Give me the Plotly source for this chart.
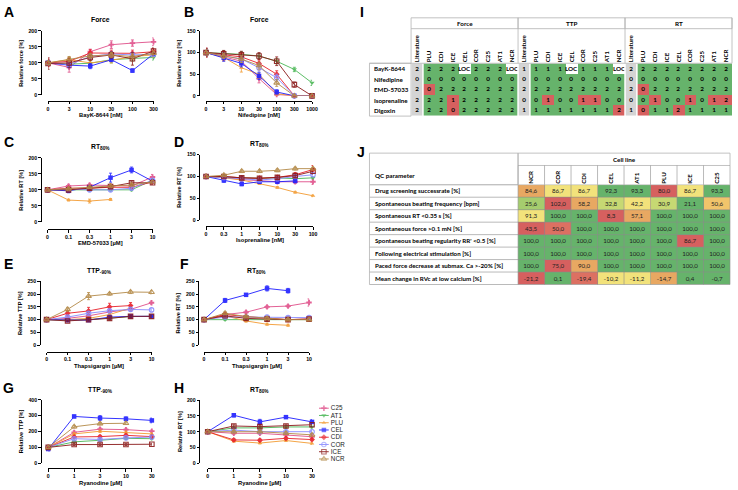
import plotly.graph_objects as go

W, H = 738, 490

lines = ["C25", "AT1", "PLU", "CEL", "CDI", "COR", "ICE", "NCR"]

# A  Force, BayK-8644
bayk_nM = ["0", "3", "10", "30", "100", "300"]
force_bayk = {
    "C25": [100, 86, 135, 157, 162, 166],
    "AT1": [100, 96, 99, 110, 114, 117],
    "PLU": [100, 110, 100, 108, 120, 125],
    "CEL": [100, 93, 90, 110, 76, 128],
    "CDI": [100, 105, 131, 130, 130, 135],
    "COR": [100, 95, 120, 128, 125, 127],
    "ICE": [98, 100, 117, 125, 113, 137],
    "NCR": [100, 112, 122, 125, 120, 130],
}
force_bayk_sem = {
    "C25": [10, 15, 8, 12, 10, 12],
    "AT1": [8, 6, 8, 10, 8, 8],
    "PLU": [8, 8, 8, 8, 8, 8],
    "CEL": [8, 8, 8, 6, 5, 8],
    "CDI": [12, 10, 10, 10, 10, 10],
    "COR": [8, 8, 8, 8, 8, 8],
    "ICE": [18, 15, 10, 10, 20, 10],
    "NCR": [8, 8, 8, 8, 8, 8],
}

# B  Force, Nifedipine
nif_nM = ["0", "3", "10", "30", "100", "300", "1000"]
force_nif = {
    "C25": [100, 90, 80, 40, 3, 0, 0],
    "AT1": [100, 98, 96, 92, 80, 61, 30],
    "PLU": [100, 89, 65, 50, 5, 0, 0],
    "CEL": [100, 88, 75, 46, 9, 0, 0],
    "CDI": [100, 95, 90, 75, 50, 0, 0],
    "COR": [100, 93, 85, 65, 42, 0, 0],
    "ICE": [100, 97, 95, 92, 80, 26, 0],
    "NCR": [100, 92, 85, 70, 30, 0, 0],
}
force_nif_sem = {
    "C25": [10, 8, 8, 10, 3, 0, 0],
    "AT1": [8, 6, 6, 6, 6, 5, 6],
    "PLU": [8, 8, 10, 10, 4, 0, 0],
    "CEL": [8, 8, 8, 8, 5, 0, 0],
    "CDI": [10, 8, 8, 8, 8, 0, 0],
    "COR": [8, 6, 8, 10, 8, 0, 0],
    "ICE": [10, 8, 8, 8, 10, 6, 2],
    "NCR": [8, 6, 8, 8, 8, 0, 0],
}

# C  RT80%, EMD-57033
emd_uM = ["0", "0.1", "0.3", "1", "3", "10"]
rt_emd = {
    "C25": [100, 112, 115, 113, 112, 140],
    "AT1": [100, 100, 100, 100, 100, 130],
    "PLU": [100, 68, 65, 70, None, None],
    "CEL": [100, 97, 108, 138, 162, 127],
    "CDI": [100, 105, 105, 108, 108, 125],
    "COR": [100, 102, 100, 100, 105, 130],
    "ICE": [100, 100, 105, 110, 122, 122],
    "NCR": [100, 103, 108, 112, 115, 125],
}
rt_emd_sem = {
    "C25": [5, 4, 4, 4, 4, 8],
    "AT1": [3, 3, 3, 3, 3, 5],
    "PLU": [3, 3, 6, 3, None, None],
    "CEL": [6, 6, 6, 14, 9, 6],
    "CDI": [4, 4, 4, 4, 4, 5],
    "COR": [4, 4, 4, 4, 4, 5],
    "ICE": [4, 4, 4, 4, 5, 5],
    "NCR": [3, 3, 3, 3, 3, 4],
}

# D  RT80%, Isoprenaline
iso_nM = ["0", "0.3", "1", "3", "10", "30", "100"]
rt_iso = {
    "C25": [100, 98, 93, 90, 88, 88, 88],
    "AT1": [100, 99, 97, 96, 97, 95, 97],
    "PLU": [100, 97, 92, 84, 75, 64, 56],
    "CEL": [100, 91, 83, 88, 88, 90, None],
    "CDI": [100, 100, 97, 96, 98, 104, 116],
    "COR": [100, 98, 95, 92, 95, 100, 104],
    "ICE": [100, 100, 97, 96, 98, 102, 112],
    "NCR": [100, 103, 112, 112, 114, 118, 118],
}
rt_iso_sem = {
    "C25": [3, 3, 3, 3, 3, 4, 6],
    "AT1": [2, 2, 2, 2, 2, 2, 2],
    "PLU": [2, 2, 2, 2, 2, 2, 2],
    "CEL": [4, 4, 4, 4, 4, 4, None],
    "CDI": [3, 3, 3, 3, 4, 5, 9],
    "COR": [3, 3, 3, 3, 3, 4, 4],
    "ICE": [3, 3, 3, 3, 3, 4, 6],
    "NCR": [2, 2, 3, 3, 3, 3, 3],
}

# E  TTP-90%, Thapsigargin
thap_uM = ["0", "0.1", "0.3", "1", "3", "10"]
ttp_thap = {
    "C25": [100, 105, 115, 130, 140, 166],
    "AT1": [100, 98, 100, 105, 112, 113],
    "PLU": [100, 100, 105, 120, 145, None],
    "CEL": [100, 98, 98, 110, 113, 113],
    "CDI": [100, 125, 134, 150, 155, None],
    "COR": [100, 110, 125, 135, 140, 138],
    "ICE": [100, 95, 100, 105, 113, 113],
    "NCR": [100, 140, 192, 201, 208, 207],
}
ttp_thap_sem = {
    "C25": [5, 5, 5, 8, 8, 6],
    "AT1": [4, 4, 4, 4, 4, 4],
    "PLU": [4, 4, 4, 6, 8, None],
    "CEL": [6, 4, 4, 4, 4, 4],
    "CDI": [6, 10, 14, 14, 12, None],
    "COR": [5, 5, 6, 6, 6, 5],
    "ICE": [4, 4, 4, 4, 4, 4],
    "NCR": [4, 8, 14, 5, 6, 6],
}

# F  RT80%, Thapsigargin
rt_thap = {
    "C25": [100, 120, 129, 150, 153, 167],
    "AT1": [100, 100, 102, 100, 100, 100],
    "PLU": [100, 115, 95, 82, 78, None],
    "CEL": [100, 175, 197, 222, 213, None],
    "CDI": [100, 120, 112, 105, 100, 103],
    "COR": [100, 110, 110, 110, 108, 108],
    "ICE": [100, 115, 105, 102, 100, 102],
    "NCR": [100, 125, 112, 105, 100, 100],
}
rt_thap_sem = {
    "C25": [4, 6, 5, 5, 5, 14],
    "AT1": [3, 3, 3, 3, 3, 3],
    "PLU": [3, 5, 5, 4, 4, None],
    "CEL": [5, 8, 5, 10, 9, None],
    "CDI": [3, 8, 5, 4, 4, 4],
    "COR": [3, 4, 4, 4, 4, 4],
    "ICE": [3, 4, 4, 4, 4, 4],
    "NCR": [3, 6, 4, 4, 4, 4],
}

# G  TTP-90%, Ryanodine
rya_uM = ["0", "1", "3", "10", "30"]
ttp_rya = {
    "C25": [100, 195, 215, 212, 202],
    "AT1": [100, 135, 145, 157, 155],
    "PLU": [100, 185, 202, 195, 185],
    "CEL": [90, 295, 285, 280, 270],
    "CDI": [100, 166, 168, 176, 168],
    "COR": [100, 155, 150, 160, 165],
    "ICE": [100, 118, 118, 118, 120],
    "NCR": [100, 230, 250, 252, None],
}
ttp_rya_sem = {
    "C25": [6, 8, 8, 8, 8],
    "AT1": [5, 6, 6, 6, 6],
    "PLU": [5, 8, 8, 8, 8],
    "CEL": [12, 8, 15, 12, 15],
    "CDI": [5, 8, 8, 8, 8],
    "COR": [5, 6, 6, 6, 6],
    "ICE": [5, 6, 6, 6, 6],
    "NCR": [5, 8, 8, 8, None],
}

# H  RT80%, Ryanodine
rt_rya = {
    "C25": [100, 95, 95, 90, 84],
    "AT1": [100, 112, 112, 115, 115],
    "PLU": [100, 70, 64, 72, 63],
    "CEL": [100, 152, 131, 146, 131],
    "CDI": [100, 74, 73, 79, 75],
    "COR": [100, 105, 100, 100, 100],
    "ICE": [100, 118, 116, 118, 122],
    "NCR": [100, 100, 100, 95, 90],
}
rt_rya_sem = {
    "C25": [3, 4, 4, 4, 6],
    "AT1": [3, 4, 4, 4, 4],
    "PLU": [3, 3, 3, 3, 3],
    "CEL": [5, 5, 8, 4, 7],
    "CDI": [3, 4, 4, 4, 4],
    "COR": [3, 4, 4, 4, 4],
    "ICE": [3, 4, 4, 4, 6],
    "NCR": [3, 4, 4, 4, 4],
}

# I  drug response vs literature
drugs = ["BayK-8644", "Nifedipine", "EMD-57033", "Isoprenaline", "Digoxin"]
lines_I = ["PLU", "CDI", "ICE", "CEL", "COR", "C25", "AT1", "NCR"]
groups_I = ["Force", "TTP", "RT"]
force_lit = [2, 0, 2, 2, 2]
force_obs = [
    ["2", "2", "2", "LOC", "2", "2", "2", "LOC"],
    ["0", "0", "0", "0", "0", "0", "0", "0"],
    ["0", "2", "2", "2", "2", "2", "2", "2"],
    ["2", "2", "1", "2", "2", "2", "2", "2"],
    ["2", "2", "0", "2", "2", "2", "2", "2"],
]
ttp_lit = [1, 0, 2, 0, 1]
ttp_obs = [
    ["1", "1", "1", "LOC", "1", "1", "1", "LOC"],
    ["0", "0", "0", "0", "0", "0", "0", "0"],
    ["2", "2", "2", "2", "2", "2", "2", "2"],
    ["0", "1", "0", "0", "1", "1", "0", "0"],
    ["1", "1", "1", "1", "1", "1", "1", "2"],
]
rt_lit = [2, 0, 2, 0, 1]
rt_obs = [
    ["2", "2", "2", "2", "2", "2", "2", "2"],
    ["0", "0", "0", "0", "0", "0", "0", "0"],
    ["0", "2", "2", "2", "2", "2", "2", "2"],
    ["0", "1", "0", "0", "1", "0", "1", "2"],
    ["0", "1", "1", "2", "1", "1", "1", "1"],
]

# J  QC parameters
qc_params = [
    "Drug screening successrate [%]",
    "Spontaneous beating frequency [bpm]",
    "Spontaneous RT &lt;0.35 s [%]",
    "Spontaneous force &gt;0.1 mN [%]",
    "Spontaneous beating regularity RR' &lt;0.5 [%]",
    "Following electrical stimulation [%]",
    "Paced force decrease at submax. Ca &gt;-20% [%]",
    "Mean change in RVc at low calcium [%]",
]
lines_J = ["NCR", "COR", "CDI", "CEL", "AT1", "PLU", "ICE", "C25"]
qc_values = [
    [84.6, 86.7, 86.7, 92.3, 93.3, 80.0, 86.7, 93.3],
    [25.6, 102.0, 58.2, 32.8, 42.2, 30.9, 21.1, 50.6],
    [91.3, 100.0, 100.0, 8.3, 57.1, 100.0, 100.0, 100.0],
    [43.5, 50.0, 100.0, 100.0, 100.0, 100.0, 100.0, 100.0],
    [100.0, 100.0, 100.0, 100.0, 100.0, 100.0, 86.7, 100.0],
    [100.0, 100.0, 100.0, 100.0, 100.0, 100.0, 100.0, 100.0],
    [100.0, 75.0, 90.0, 100.0, 100.0, 100.0, 100.0, 100.0],
    [-21.2, 0.1, -19.4, -10.2, -11.2, -14.7, 0.4, -0.7],
]

# ---------------- styles ----------------
GREEN, LGREEN, YGREEN, YELLOW = "#66b36b", "#a5cd6e", "#c6d873", "#f2e27b"
LORANGE, ORANGE, LRED, RED = "#f1c46b", "#e8a862", "#dc7062", "#d6605f"
qc_colors = [
    [ORANGE, YELLOW, YELLOW, GREEN, GREEN, RED, YELLOW, GREEN],
    [LGREEN, RED, ORANGE, YGREEN, YELLOW, YGREEN, GREEN, LORANGE],
    [YELLOW, GREEN, GREEN, RED, ORANGE, GREEN, GREEN, GREEN],
    [RED, LRED, GREEN, GREEN, GREEN, GREEN, GREEN, GREEN],
    [GREEN, GREEN, GREEN, GREEN, GREEN, GREEN, RED, GREEN],
    [GREEN] * 8,
    [GREEN, RED, ORANGE, GREEN, GREEN, GREEN, GREEN, GREEN],
    [RED, GREEN, LRED, YELLOW, YELLOW, ORANGE, GREEN, GREEN],
]

line_style = {
    "C25": ("#e0508a", "cross", 4.5),
    "AT1": ("#4cb857", "triangle-down", 4.5),
    "PLU": ("#f39c33", "triangle-up", 4),
    "CEL": ("#1f1fff", "square", 4.5),
    "CDI": ("#e8202a", "diamond", 4.5),
    "COR": ("#8a8cff", "circle-open", 4.5),
    "ICE": ("#8b1a1a", "square-open", 4.5),
    "NCR": ("#b48a48", "triangle-up-open", 5),
}

PF = "Liberation Sans"
TF = "Lato"


def px(x):
    return x / W


def py(y):
    return 1 - y / H


# box = (x of first dose, x of last dose, y of 0, y of ymax, y-axis line x, x-axis line y)
panels = [
    ("A", bayk_nM, force_bayk, force_bayk_sem, "Force", "BayK-8644 [nM]", "Relative force [%]", 200, 50,
     (47.5, 154, 93, 28.3, 40, 99), 17, 113, (8, 9)),
    ("B", nif_nM, force_nif, force_nif_sem, "Force", "Nifedipine [nM]", "Relative force [%]", 150, 50,
     (207, 314, 94, 28.3, 200, 99), 17, 113, (190, 9)),
    ("C", emd_uM, rt_emd, rt_emd_sem, "RT<sub>80%</sub>", "EMD-57033 [µM]", "Relative RT [%]", 200, 50,
     (47, 153, 221.6, 156.7, 40, 229), 146, 243, (8, 141)),
    ("D", iso_nM, rt_iso, rt_iso_sem, "RT<sub>80%</sub>", "Isoprenaline [nM]", "Relative RT [%]", 150, 50,
     (207, 315, 220, 153.5, 200, 226), 143, 240, (180, 141)),
    ("E", thap_uM, ttp_thap, ttp_thap_sem, "TTP<sub>-90%</sub>", "Thapsigargin [µM]", "Relative TTP [%]", 250, 50,
     (46, 152, 346.5, 281.7, 39, 353), 271, 367.5, (8, 264)),
    ("F", thap_uM, rt_thap, rt_thap_sem, "RT<sub>80%</sub>", "Thapsigargin [µM]", "Relative RT [%]", 250, 50,
     (205, 311, 346.5, 281.7, 199, 353), 271, 367.5, (185, 264)),
    ("G", rya_uM, ttp_rya, ttp_rya_sem, "TTP<sub>-90%</sub>", "Ryanodine [µM]", "Relative TTP [%]", 400, 100,
     (47.7, 152.3, 466, 401.7, 40, 471), 392, 485.5, (8, 390)),
    ("H", rya_uM, rt_rya, rt_rya_sem, "RT<sub>80%</sub>", "Ryanodine [µM]", "Relative RT [%]", 200, 50,
     (208.7, 314, 466, 402, 200, 471), 392, 485.5, (180, 390)),
]

fig = go.Figure()
layout = {}
annotations = []
shapes = []
tick_font = dict(family=PF, size=5.2, color="black", weight="bold")


def ax_names(n):
    return ("x" if n == 1 else f"x{n}"), ("y" if n == 1 else f"y{n}")


for n, (letter, dose, vals, sem, title, xt, yt, ymax, dtick, box, ty, xty, lab) in enumerate(panels, start=1):
    xa, ya = ax_names(n)
    x0, x1, y0, y1, yline, xline = box
    for name in lines:
        col, sym, size = line_style[name]
        is_open = sym.endswith("open")
        fig.add_trace(go.Scatter(
            x=dose, y=vals[name], xaxis=xa, yaxis=ya, name=name,
            mode="lines+markers", cliponaxis=False, opacity=0.9,
            line=dict(color=col, width=1),
            marker=dict(symbol=sym, size=size, color=col,
                        line=dict(color=col, width=1.1 if is_open else 0)),
            error_y=dict(type="data", array=sem[name], color=col, thickness=0.9, width=1.5),
            hoverinfo="skip", showlegend=False,
        ))
    layout[xa.replace("x", "xaxis")] = dict(
        domain=[px(x0), px(x1)], anchor="free", position=py(xline), type="category",
        range=[0, len(dose) - 1], showline=True, linecolor="black", linewidth=1,
        ticks="outside", ticklen=2.5, tickwidth=1, tickcolor="black", tickfont=tick_font,
        showgrid=False, zeroline=False,
    )
    layout[ya.replace("y", "yaxis")] = dict(
        domain=[py(y0), py(y1)], anchor="free", position=px(yline), range=[0, ymax], dtick=dtick,
        showline=True, linecolor="black", linewidth=1, ticks="outside", ticklen=2.5, tickwidth=1,
        tickcolor="black", tickfont=tick_font, showgrid=False, zeroline=False,
    )
    xc = (x0 + x1) / 2
    annotations += [
        dict(text=title, x=px(xc), y=py(ty), xref="paper", yref="paper", showarrow=False,
             font=dict(family=PF, size=6.8, weight="bold")),
        dict(text=xt, x=px(xc), y=py(xty), xref="paper", yref="paper", showarrow=False,
             font=dict(family=PF, size=5.8, weight="bold")),
        dict(text=yt, x=px(yline - 20), y=py((y0 + y1) / 2), xref="paper", yref="paper", showarrow=False,
             textangle=-90, font=dict(family=PF, size=5.6, weight="bold")),
        dict(text=letter, x=px(lab[0]), y=py(lab[1]), xref="paper", yref="paper", showarrow=False,
             font=dict(family=PF, size=14, weight="bold")),
    ]

# legend key (own small axis)
nL = 11
for name in lines:
    col, sym, size = line_style[name]
    is_open = sym.endswith("open")
    fig.add_trace(go.Scatter(
        x=[-1, 0, 1], y=[name] * 3, xaxis=f"x{nL}", yaxis=f"y{nL}", mode="lines+markers",
        line=dict(color=col, width=1), cliponaxis=False, opacity=0.9,
        marker=dict(symbol=sym, size=[0, size, 0], color=col,
                    line=dict(color=col, width=1.1 if is_open else 0)),
        hoverinfo="skip", showlegend=False,
    ))
layout[f"xaxis{nL}"] = dict(domain=[px(321), px(331)], range=[-1, 1], visible=False, anchor=f"y{nL}")
layout[f"yaxis{nL}"] = dict(domain=[py(468), py(404)], type="category", autorange="reversed",
                            tickmode="array", tickvals=lines, ticktext=lines,
                            anchor="free", position=px(332), side="right", showline=False, ticks="",
                            showgrid=False, tickfont=dict(family=PF, size=6.3, color="#222"))

# ---------------- table I ----------------
nI = 9
I_left, I_x0, I_x1 = 372, 414, 738
I_top, I_hdr, I_y0, I_y1 = 15, 26, 61, 114.5
ids_I, names_I = [], []
for g in groups_I:
    for c in ["Literature"] + lines_I:
        ids_I.append(f"{g}|{c}")
        names_I.append(c)
zI, tI = [], []
for r in range(len(drugs)):
    zrow, trow = [], []
    for lit, obs in ((force_lit, force_obs), (ttp_lit, ttp_obs), (rt_lit, rt_obs)):
        zrow.append(0)
        trow.append(str(lit[r]))
        for v in obs[r]:
            zrow.append(3 if v == "LOC" else (1 if v == str(lit[r]) else 2))
            trow.append(v)
    zI.append(zrow)
    tI.append(trow)

GREY = "#d4d4d4"
fig.add_trace(go.Heatmap(
    x=ids_I, y=drugs, z=zI, text=tI, texttemplate="%{text}", xaxis=f"x{nI}", yaxis=f"y{nI}",
    zmin=0, zmax=3, showscale=False, hoverinfo="skip",
    colorscale=[[0, GREY], [1 / 6, GREY], [1 / 6, GREEN], [0.5, GREEN], [0.5, RED], [5 / 6, RED],
                [5 / 6, "white"], [1, "white"]],
    textfont=dict(family=TF, size=6.3, color="black", weight="bold"),
))
layout[f"xaxis{nI}"] = dict(domain=[px(I_x0), px(I_x1)], anchor=f"y{nI}", side="top", type="category",
                            tickvals=ids_I, ticktext=names_I, tickangle=-90, ticks="", showgrid=False,
                            tickfont=dict(family=TF, size=6.2, color="black", weight="bold"))
layout[f"yaxis{nI}"] = dict(domain=[py(I_y1), py(I_y0)], anchor=f"x{nI}", type="category",
                            autorange="reversed", showticklabels=False, ticks="", showgrid=False)
for i, d in enumerate(drugs):
    annotations.append(dict(text=d, x=px(I_left + 3), y=i, xref="paper", yref=f"y{nI}", xanchor="left",
                            showarrow=False, font=dict(family=TF, size=6.2, color="black", weight="bold")))
gw = (I_x1 - I_x0) / len(groups_I)
cw = gw / (len(lines_I) + 1)
BORDER = "#b3b3b3"
for gi, g in enumerate(groups_I):
    gx0 = I_x0 + gi * gw
    annotations.append(dict(text=g, x=px(gx0 + gw / 2), y=py((I_top + I_hdr) / 2), xref="paper", yref="paper",
                            showarrow=False, font=dict(family=TF, size=6.3, color="black", weight="bold")))
    shapes.append(dict(type="rect", xref="paper", yref="paper", x0=px(gx0), x1=px(gx0 + gw),
                       y0=py(I_hdr), y1=py(I_top), line=dict(color=BORDER, width=0.8)))
    shapes.append(dict(type="line", xref="paper", yref="paper", x0=px(gx0), x1=px(gx0),
                       y0=py(I_y0), y1=py(I_hdr), line=dict(color=BORDER, width=0.8)))
    for xx in (gx0, gx0 + cw):
        shapes.append(dict(type="line", xref="paper", yref="paper", x0=px(xx), x1=px(xx),
                           y0=py(I_y1), y1=py(I_y0), line=dict(color="white", width=1.5)))
shapes.append(dict(type="line", xref="paper", yref="paper", x0=px(I_x1), x1=px(I_x1),
                   y0=py(I_y0), y1=py(I_top), line=dict(color=BORDER, width=0.8)))
shapes.append(dict(type="rect", xref="paper", yref="paper", x0=px(I_left), x1=px(I_x0),
                   y0=py(I_y1), y1=py(I_y0), line=dict(color=BORDER, width=0.8)))
shapes.append(dict(type="line", xref="paper", yref="paper", x0=px(I_left), x1=px(I_x1),
                   y0=py(I_y0), y1=py(I_y0), line=dict(color=BORDER, width=0.8)))

# ---------------- table J ----------------
nJ = 10
J_left, J_x0, J_x1 = 372, 522, 736
J_top, J_hdr, J_y0, J_y1 = 152, 164.5, 184, 285
palette = []
for row in qc_colors:
    for c in row:
        if c not in palette:
            palette.append(c)
zJ = [[palette.index(c) for c in row] for row in qc_colors]
scaleJ = []
for k, c in enumerate(palette):
    scaleJ += [[k / len(palette), c], [(k + 1) / len(palette), c]]
tJ = [[f"{v:.1f}".replace(".", ",") for v in row] for row in qc_values]
fig.add_trace(go.Heatmap(
    x=lines_J, y=list(range(len(qc_params))), z=zJ, text=tJ, texttemplate="%{text}",
    xaxis=f"x{nJ}", yaxis=f"y{nJ}", zmin=-0.5, zmax=len(palette) - 0.5, colorscale=scaleJ,
    showscale=False, hoverinfo="skip",
    textfont=dict(family=TF, size=6.2, color="#222"),
))
layout[f"xaxis{nJ}"] = dict(domain=[px(J_x0), px(J_x1)], anchor=f"y{nJ}", side="top", type="category",
                            tickangle=-90, ticks="", showgrid=False,
                            tickfont=dict(family=TF, size=6.2, color="black", weight="bold"))
layout[f"yaxis{nJ}"] = dict(domain=[py(J_y1), py(J_y0)], anchor=f"x{nJ}", autorange="reversed",
                            showticklabels=False, ticks="", showgrid=False, zeroline=False)
for i, p in enumerate(qc_params):
    annotations.append(dict(text=p, x=px(J_left + 4), y=i, xref="paper", yref=f"y{nJ}", xanchor="left",
                            showarrow=False, font=dict(family=TF, size=6.2, color="black", weight="bold")))
annotations += [
    dict(text="QC parameter", x=px(J_left + 4), y=py((J_hdr + J_y0) / 2), xref="paper", yref="paper",
         xanchor="left", showarrow=False, font=dict(family=TF, size=6.3, color="black", weight="bold")),
    dict(text="Cell line", x=px((J_x0 + J_x1) / 2), y=py((J_top + J_hdr) / 2), xref="paper", yref="paper",
         showarrow=False, font=dict(family=TF, size=6.3, color="black", weight="bold")),
]
JB = "#8c8c8c"
rh = (J_y1 - J_y0) / len(qc_params)
jw = (J_x1 - J_x0) / len(lines_J)
shapes.append(dict(type="rect", xref="paper", yref="paper", x0=px(J_left), x1=px(J_x0),
                   y0=py(J_y0), y1=py(J_top), line=dict(color=BORDER, width=0.8)))
shapes.append(dict(type="rect", xref="paper", yref="paper", x0=px(J_x0), x1=px(J_x1),
                   y0=py(J_hdr), y1=py(J_top), line=dict(color=BORDER, width=0.8)))
for k in range(len(lines_J) + 1):
    xx = J_x0 + k * jw
    shapes.append(dict(type="line", xref="paper", yref="paper", x0=px(xx), x1=px(xx),
                       y0=py(J_y1), y1=py(J_hdr), line=dict(color=JB, width=0.6)))
for k in range(len(qc_params) + 1):
    yy = J_y0 + k * rh
    shapes.append(dict(type="line", xref="paper", yref="paper", x0=px(J_left), x1=px(J_x1),
                       y0=py(yy), y1=py(yy), line=dict(color=JB if k else BORDER, width=0.6)))
shapes.append(dict(type="line", xref="paper", yref="paper", x0=px(J_left), x1=px(J_left),
                   y0=py(J_y1), y1=py(J_y0), line=dict(color=BORDER, width=0.8)))

annotations += [
    dict(text="I", x=px(364), y=py(9), xref="paper", yref="paper", showarrow=False,
         font=dict(family=PF, size=14, weight="bold")),
    dict(text="J", x=px(363), y=py(151), xref="paper", yref="paper", showarrow=False,
         font=dict(family=PF, size=14, weight="bold")),
]
# paper annotations default to edge-dependent anchoring; pin them explicitly
for a in annotations:
    a.setdefault("xanchor", "center")
    a.setdefault("yanchor", "middle")

fig.update_layout(
    width=W, height=H, margin=dict(l=0, r=0, t=0, b=0), paper_bgcolor="white", plot_bgcolor="white",
    font=dict(family=PF, color="black"),
    showlegend=False, annotations=annotations, shapes=shapes, **layout,
)
# the page body keeps its default 8px margin otherwise, which shifts the whole figure
fig.write_html("out.html", config={"displayModeBar": False},
               post_script="document.body.style.margin='0';")
